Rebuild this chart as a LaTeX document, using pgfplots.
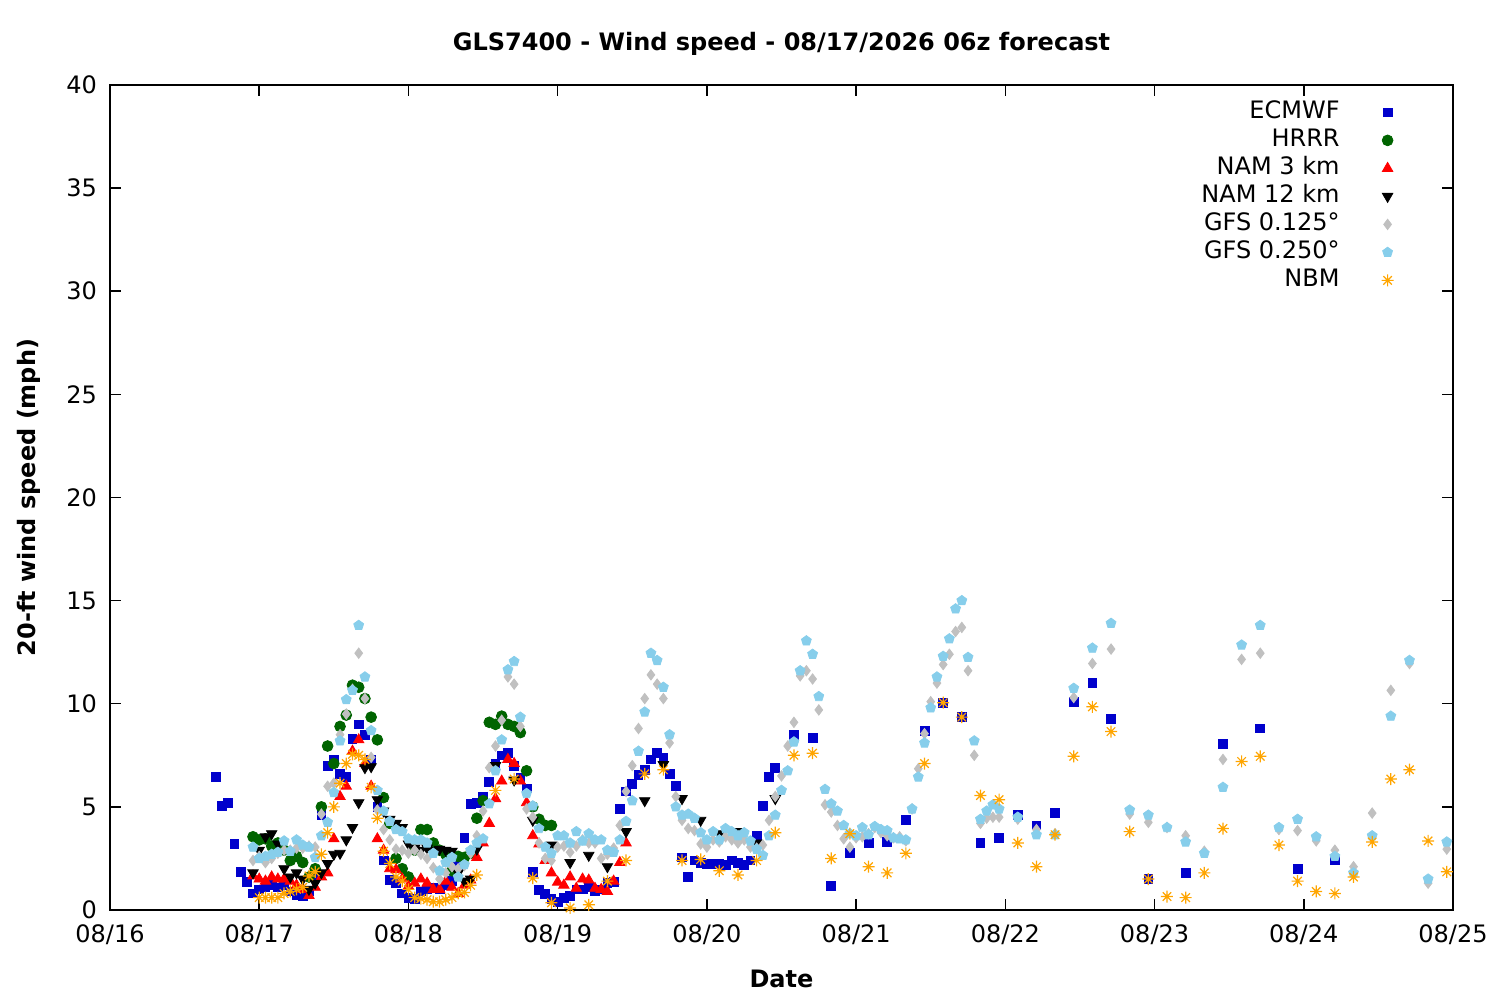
\documentclass[border=0pt]{standalone}
\usepackage{fontspec}
\setmainfont{DejaVu Sans}
\usepackage{pgfplots}
\pgfplotsset{compat=1.18}
\definecolor{ecm}{HTML}{0000CC}
\definecolor{hrrr}{HTML}{006400}
\definecolor{nam3}{HTML}{FF0000}
\definecolor{nam12}{HTML}{000000}
\definecolor{gfsa}{HTML}{C0C0C0}
\definecolor{gfsb}{HTML}{87CEEB}
\definecolor{nbm}{HTML}{FFA500}
\pgfdeclareplotmark{ast8}{%
 \pgfpathmoveto{\pgfqpoint{-\pgfplotmarksize}{0pt}}\pgfpathlineto{\pgfqpoint{\pgfplotmarksize}{0pt}}%
 \pgfpathmoveto{\pgfqpoint{0pt}{-\pgfplotmarksize}}\pgfpathlineto{\pgfqpoint{0pt}{\pgfplotmarksize}}%
 \pgfpathmoveto{\pgfqpoint{-0.7071\pgfplotmarksize}{-0.7071\pgfplotmarksize}}\pgfpathlineto{\pgfqpoint{0.7071\pgfplotmarksize}{0.7071\pgfplotmarksize}}%
 \pgfpathmoveto{\pgfqpoint{-0.7071\pgfplotmarksize}{0.7071\pgfplotmarksize}}\pgfpathlineto{\pgfqpoint{0.7071\pgfplotmarksize}{-0.7071\pgfplotmarksize}}%
 \pgfusepathqstroke}
\newcommand{\fs}{\fontsize{12}{14.4}\selectfont}
\begin{document}
\begin{tikzpicture}
\path[use as bounding box] (-55pt,-45pt) rectangle (695pt,455pt);
\begin{axis}[
 at={(0,0)}, anchor=south west,
 scale only axis, width=671.5pt, height=412.5pt,
 xmin=0, xmax=216, ymin=0, ymax=40,
 xtick={0,24,...,216},
 xticklabels={08/16,08/17,08/18,08/19,08/20,08/21,08/22,08/23,08/24,08/25},
 ytick={0,5,...,40},
 minor tick num=0,
 tick align=inside, major tick length=5.5pt,
 xtick pos=both, ytick pos=both,
 xticklabel pos=lower, yticklabel pos=left,
 axis line style={line width=0.75pt},
 tick style={line width=0.75pt, black},
 ticklabel style={font=\fs},
 /pgf/number format/assume math mode=true,
 xticklabel style={yshift=-4pt},
 yticklabel style={xshift=-3pt},
 title={\bfseries GLS7400 - Wind speed - 08/17/2026 06z forecast},
 title style={font=\fs, at={(axis description cs:0.5,1)}, anchor=base, yshift=11pt},
 xlabel={\bfseries Date},
 xlabel style={font=\fs, at={(axis description cs:0.5,0)}, anchor=base, yshift=-39pt},
 ylabel={\bfseries 20-ft wind speed (mph)},
 ylabel style={font=\fs, at={(axis description cs:-0.0555,0.5)}, anchor=base, rotate=0},
 legend style={draw=none, fill=none, font=\fs, at={(axis description cs:1,1)}, anchor=north east, xshift=-26.5pt, yshift=-4.5pt, row sep=0pt, column sep=20pt, nodes={text height=9pt, text depth=3pt, inner sep=1pt}},
 legend cell align=right,
 legend plot pos=right,
]
\addplot[only marks, mark=square*, mark size=2.2pt, color=ecm] coordinates {
(17,6.45)(18,5.05)(19,5.2)(20,3.2)(21,1.85)(22,1.35)(23,0.8)(24,1.0)(25,1.1)(26,1.2)(27,1.1)(28,1.2)(29,0.9)(30,0.75)(31,0.7)(32,0.9)(33,1.6)(34,4.6)(35,7.0)(36,7.3)(37,6.6)(38,6.45)(39,8.3)(40,9.0)(41,8.5)(42,7.3)(43,5.0)(44,2.4)(45,1.45)(46,1.3)(47,0.8)(48,0.6)(49,0.55)(50,0.9)(51,1.0)(52,1.1)(53,1.0)(54,1.2)(55,1.4)(56,2.2)(57,3.5)(58,5.15)(59,5.2)(60,5.5)(61,6.2)(62,7.1)(63,7.5)(64,7.6)(65,7.0)(66,6.4)(67,5.9)(68,1.85)(69,0.97)(70,0.78)(71,0.55)(72,0.4)(73,0.6)(74,0.7)(75,1.0)(76,1.0)(77,1.1)(78,0.9)(79,1.0)(80,1.3)(81,1.35)(82,4.9)(83,5.75)(84,6.1)(85,6.55)(86,6.8)(87,7.3)(88,7.6)(89,7.4)(90,6.6)(91,6.0)(92,2.55)(93,1.6)(94,2.4)(95,2.3)(96,2.25)(97,2.25)(98,2.25)(99,2.2)(100,2.4)(101,2.3)(102,2.2)(103,2.4)(104,3.6)(105,5.05)(106,6.45)(107,6.9)
(110,8.5)(113,8.35)(116,1.15)(119,2.75)(122,3.25)(125,3.3)(128,4.35)(131,8.7)(134,10.05)(137,9.35)(140,3.25)(143,3.5)(146,4.6)(149,4.1)(152,4.7)(155,10.1)(158,11.0)(161,9.25)(167,1.5)(173,1.8)(179,8.05)(185,8.8)(191,2.0)(197,2.4)
};
\addlegendentry{ECMWF}
\addplot[only marks, mark=*, mark size=2.7pt, color=hrrr] coordinates {
(23,3.55)(24,3.4)(25,3.45)(26,3.1)(27,3.25)(28,2.9)(29,2.4)(30,2.6)(31,2.3)(32,1.6)(33,2.0)(34,5.0)(35,7.95)(36,7.1)(37,8.9)(38,9.45)(39,10.9)(40,10.8)(41,10.25)(42,9.35)(43,8.25)(44,5.45)(45,4.2)(46,2.5)(47,2.0)(48,1.6)(49,2.9)(50,3.9)(51,3.9)(52,3.25)(53,2.9)(54,2.7)(55,1.9)(56,2.6)(57,2.55)(58,2.75)(59,4.45)(60,5.3)(61,9.1)(62,9.0)(63,9.4)(64,9.0)(65,8.9)(66,8.6)(67,6.75)(68,5.0)(69,4.4)(70,4.1)(71,4.1)
};
\addlegendentry{HRRR}
\addplot[only marks, mark=triangle*, mark size=3pt, color=nam3] coordinates {
(23,1.65)(24,1.5)(25,1.4)(26,1.6)(27,1.5)(28,1.5)(29,1.4)(30,1.2)(31,1.0)(32,0.7)(33,1.1)(34,1.6)(35,1.8)(36,3.45)(37,5.5)(38,6.0)(39,7.7)(40,8.25)(41,7.1)(42,6.0)(43,3.45)(44,2.9)(45,2.0)(46,1.95)(47,1.5)(48,1.15)(49,1.3)(50,1.5)(51,1.3)(52,1.0)(53,1.0)(54,1.4)(55,1.1)(56,0.8)(57,1.2)(58,1.45)(59,2.55)(60,3.25)(61,4.2)(62,5.4)(63,6.25)(64,7.3)(65,7.1)(66,6.25)(67,5.2)(68,3.6)(69,3.2)(70,2.4)(71,1.8)(72,1.35)(73,1.2)(74,1.6)(75,1.05)(76,1.5)(77,1.45)(78,1.05)(79,1.0)(80,0.9)(81,1.4)(82,2.3)(83,3.25)
};
\addlegendentry{NAM 3 km}
\addplot[only marks, mark=triangle*, mark size=3pt, mark options={rotate=180}, color=nam12] coordinates {
(23,1.8)(24,2.9)(25,3.55)(26,3.7)(27,3.2)(28,2.0)(29,1.6)(30,1.8)(31,1.5)(32,1.0)(33,1.3)(34,1.8)(35,2.25)(36,2.7)(37,2.75)(38,3.4)(39,4.0)(40,5.2)(41,6.9)(42,6.95)(43,5.35)(44,4.8)(45,4.4)(46,4.2)(47,4.0)(48,3.2)(49,3.0)(50,2.9)(51,3.0)(52,2.9)(53,2.95)(54,2.9)(55,2.85)(56,1.8)(57,1.4)(58,1.5)(59,2.95)
(62,7.0)(65,6.3)(68,4.35)(71,3.15)(74,2.3)(77,2.65)(80,2.1)(83,3.8)(86,5.3)(89,7.05)(92,5.4)(95,4.35)(98,3.7)(101,3.8)(104,3.25)(107,5.4)
};
\addlegendentry{NAM 12 km}
\addplot[only marks, mark=diamond*, mark size=2.6pt, color=gfsa] coordinates {
(23,2.4)(24,2.6)(25,2.3)(26,2.5)(27,2.75)(28,2.9)(29,2.9)(30,3.0)(31,3.0)(32,3.1)(33,3.05)(34,4.65)(35,6.0)(36,6.15)(37,8.5)(38,9.5)(39,10.7)(40,12.45)(41,10.25)(42,7.4)(43,4.85)(44,3.9)(45,3.4)(46,2.95)(47,2.9)(48,2.75)(49,2.9)(50,2.7)(51,2.5)(52,2.05)(53,1.5)(54,1.8)(55,2.1)(56,2.0)(57,2.15)(58,2.75)(59,3.6)(60,4.8)(61,6.9)(62,7.95)(63,9.2)(64,11.3)(65,10.95)(66,8.9)(67,4.9)(68,4.5)(69,3.25)(70,2.5)(71,2.4)(72,3.05)(73,3.1)(74,2.8)(75,3.1)(76,3.4)(77,3.25)(78,3.25)(79,2.5)(80,2.7)(81,3.0)(82,4.1)(83,5.75)(84,7.0)(85,8.8)(86,10.25)(87,11.4)(88,10.95)(89,10.25)(90,8.1)(91,5.5)(92,4.35)(93,3.95)(94,3.85)(95,3.2)(96,3.05)(97,3.4)(98,3.3)(99,3.55)(100,3.4)(101,3.25)(102,3.4)(103,3.05)(104,3.0)(105,3.15)(106,4.35)(107,5.5)(108,6.5)(109,7.95)(110,9.1)(111,11.35)(112,11.6)(113,11.2)(114,9.7)(115,5.1)(116,4.75)(117,4.1)(118,3.45)(119,3.05)(120,3.5)(121,3.55)(122,3.7)(123,4.0)(124,3.75)(125,3.6)(126,3.5)(127,3.55)(128,3.35)(129,4.9)(130,6.85)(131,8.55)(132,10.1)(133,11.0)(134,11.9)(135,12.4)(136,13.5)(137,13.7)(138,11.6)(139,7.5)(140,4.2)(141,4.45)(142,4.5)(143,4.5)
(146,4.4)(149,3.9)(152,3.7)(155,10.3)(158,11.95)(161,12.65)(164,4.65)(167,4.25)(170,4.0)(173,3.6)(176,2.85)(179,7.3)(182,12.15)(185,12.45)(188,3.9)(191,3.85)(194,3.35)(197,2.9)(200,2.1)(203,4.7)(206,10.65)(209,11.95)(212,1.3)(215,2.95)
};
\addlegendentry{GFS 0.125°}
\addplot[only marks, mark=pentagon*, mark size=2.6pt, color=gfsb] coordinates {
(23,3.05)(24,2.5)(25,2.6)(26,2.7)(27,2.8)(28,3.35)(29,2.85)(30,3.4)(31,3.15)(32,3.05)(33,2.55)(34,3.6)(35,4.25)(36,5.7)(37,8.2)(38,10.2)(39,10.65)(40,13.8)(41,11.3)(42,8.7)(43,5.8)(44,4.8)(45,4.3)(46,3.9)(47,3.8)(48,3.45)(49,3.4)(50,3.4)(51,3.25)(52,2.75)(53,1.9)(54,2.3)(55,2.55)(56,1.6)(57,2.2)(58,2.9)(59,3.25)(60,3.45)(61,5.15)(62,6.75)(63,8.25)(64,11.65)(65,12.05)(66,9.35)(67,5.65)(68,5.05)(69,3.95)(70,3.05)(71,2.75)(72,3.6)(73,3.6)(74,3.25)(75,3.8)(76,3.35)(77,3.7)(78,3.4)(79,3.4)(80,2.9)(81,2.8)(82,3.4)(83,4.3)(84,5.3)(85,7.7)(86,9.6)(87,12.45)(88,12.1)(89,10.8)(90,8.5)(91,5.0)(92,4.6)(93,4.65)(94,4.45)(95,3.75)(96,3.4)(97,3.8)(98,3.4)(99,3.95)(100,3.8)(101,3.6)(102,3.75)(103,3.35)(104,2.95)(105,2.65)(106,3.6)(107,4.6)(108,5.8)(109,6.75)(110,8.15)(111,11.6)(112,13.05)(113,12.4)(114,10.35)(115,5.85)(116,5.15)(117,4.8)(118,4.1)(119,3.7)(120,3.6)(121,4.0)(122,3.65)(123,4.05)(124,3.9)(125,3.85)(126,3.5)(127,3.45)(128,3.4)(129,4.9)(130,6.45)(131,8.1)(132,9.8)(133,11.3)(134,12.3)(135,13.15)(136,14.6)(137,15.0)(138,12.25)(139,8.2)(140,4.4)(141,4.8)(142,5.1)(143,4.9)
(146,4.5)(149,3.65)(152,3.65)(155,10.75)(158,12.7)(161,13.9)(164,4.85)(167,4.6)(170,4.0)(173,3.3)(176,2.75)(179,5.95)(182,12.85)(185,13.8)(188,4.0)(191,4.4)(194,3.55)(197,2.6)(200,1.8)(203,3.6)(206,9.4)(209,12.1)(212,1.5)(215,3.3)
};
\addlegendentry{GFS 0.250°}
\addplot[only marks, mark=ast8, mark size=3pt, mark options={line width=0.6pt}, color=nbm] coordinates {
(24,0.6)(25,0.6)(26,0.6)(27,0.6)(28,0.8)(29,0.9)(30,1.0)(31,1.1)(32,1.65)(33,1.85)(34,2.7)(35,3.75)(36,5.0)(37,6.15)(38,7.1)(39,7.55)(40,7.5)(41,7.3)(42,5.95)(43,4.45)(44,2.85)(45,2.25)(46,1.6)(47,1.4)(48,1.0)(49,0.6)(50,0.55)(51,0.5)(52,0.4)(53,0.4)(54,0.5)(55,0.6)(56,0.8)(57,0.85)(58,1.2)(59,1.7)
(62,5.8)(65,6.35)(68,1.55)(71,0.35)(74,0.1)(77,0.25)(80,1.4)(83,2.4)(86,6.6)(89,6.8)(92,2.4)(95,2.45)(98,1.9)(101,1.7)(104,2.4)(107,3.75)(110,7.5)(113,7.6)(116,2.5)(119,3.7)(122,2.1)(125,1.8)(128,2.75)(131,7.1)(134,10.05)(137,9.35)(140,5.55)(143,5.35)(146,3.25)(149,2.1)(152,3.65)(155,7.45)(158,9.85)(161,8.65)(164,3.8)(167,1.5)(170,0.65)(173,0.6)(176,1.8)(179,3.95)(182,7.2)(185,7.45)(188,3.15)(191,1.4)(194,0.9)(197,0.8)(200,1.6)(203,3.3)(206,6.35)(209,6.8)(212,3.35)(215,1.85)
};
\addlegendentry{NBM}
\end{axis}
\end{tikzpicture}
\end{document}
